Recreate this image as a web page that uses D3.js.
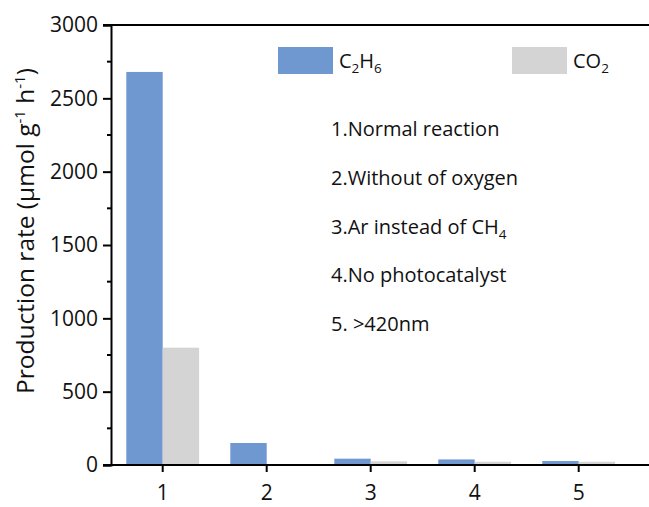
<!DOCTYPE html>
<html>
<head>
<meta charset="utf-8">
<script src="https://cdn.jsdelivr.net/npm/d3@7"></script>
<style>
  html, body { margin: 0; padding: 0; background: #fff; }
  svg { display: block; }
  text { font-family: "Open Sans", "DejaVu Sans", sans-serif; fill: #111; }
</style>
</head>
<body>
<svg id="chart" width="649" height="507"></svg>
<script>
// Reaction conditions (x categories)
const categories = ["1", "2", "3", "4", "5"];
// Production rates, µmol g⁻¹ h⁻¹
const c2h6Values = [2680, 150, 43, 38, 27];
const co2Values = [800, 3, 25, 22, 22];
const yTicks = [0, 500, 1000, 1500, 2000, 2500, 3000];
const yMinorTicks = [250, 750, 1250, 1750, 2250, 2750];
const conditionNotes = [
  ["1.Normal reaction"],
  ["2.Without of oxygen"],
  ["3.Ar instead of CH", "4"],
  ["4.No photocatalyst"],
  ["5. >420nm"]
];

const svg = d3.select("#chart");
const W = 649, H = 507;
const plotLeft = 111, plotTop = 25, plotBottom = 465;
const step = 104;
const firstCenter = 162.7;

const x = d3.scaleBand()
  .domain(categories)
  .range([firstCenter - step / 2, firstCenter - step / 2 + step * categories.length])
  .paddingInner(0.3)
  .paddingOuter(0.15);
const y = d3.scaleLinear().domain([0, 3000]).range([plotBottom, plotTop]);

const blue = "#6f98d0";
const grey = "#d4d4d4";

// Bars: C2H6 left half of the band, CO2 right half
const g = svg.append("g");
const barW = x.bandwidth() / 2;
g.selectAll("rect.c2h6").data(categories).join("rect")
  .attr("class", "c2h6")
  .attr("x", d => x(d))
  .attr("width", barW)
  .attr("y", (d, i) => y(c2h6Values[i]))
  .attr("height", (d, i) => y(0) - y(c2h6Values[i]))
  .attr("fill", blue);
g.selectAll("rect.co2").data(categories).join("rect")
  .attr("class", "co2")
  .attr("x", d => x(d) + barW)
  .attr("width", barW)
  .attr("y", (d, i) => y(co2Values[i]))
  .attr("height", (d, i) => y(0) - y(co2Values[i]))
  .attr("fill", grey);

// Frame lines (plot area runs past the right edge)
svg.append("line").attr("x1", plotLeft - 8).attr("x2", W).attr("y1", plotTop).attr("y2", plotTop)
  .attr("stroke", "#000").attr("stroke-width", 2);
svg.append("line").attr("x1", plotLeft - 8).attr("x2", W).attr("y1", plotBottom).attr("y2", plotBottom)
  .attr("stroke", "#000").attr("stroke-width", 2);

// Y axis
const yAxis = svg.append("g").attr("transform", `translate(${plotLeft},0)`)
  .call(d3.axisLeft(y).tickValues(yTicks).tickSize(8).tickPadding(5).tickFormat(d3.format("d")));
yAxis.select(".domain").attr("stroke-width", 2);
yAxis.selectAll(".tick line").attr("stroke-width", 2);
yAxis.selectAll(".tick text").style("font-size", "21px").attr("fill", "#111")
  .style("font-family", "'Open Sans', sans-serif");
svg.append("g").attr("transform", `translate(${plotLeft},0)`)
  .selectAll("line").data(yMinorTicks).join("line")
  .attr("x1", -4).attr("x2", 0)
  .attr("y1", d => y(d)).attr("y2", d => y(d))
  .attr("stroke", "#000").attr("stroke-width", 2);

// X axis
const xAxis = svg.append("g").attr("transform", `translate(0,${plotBottom})`)
  .call(d3.axisBottom(x).tickSize(7).tickPadding(13));
xAxis.select(".domain").remove();
xAxis.selectAll(".tick line").attr("stroke-width", 2);
xAxis.selectAll(".tick text").style("font-size", "21px").attr("fill", "#111")
  .style("font-family", "'Open Sans', sans-serif");

// Y axis title
const yt = svg.append("text")
  .attr("transform", `translate(34,231) rotate(-90)`)
  .attr("text-anchor", "middle")
  .style("font-size", "24.5px");
yt.append("tspan").text("Production rate (μmol g");
yt.append("tspan").attr("dy", -9).style("font-size", "15px").text("-1");
yt.append("tspan").attr("dy", 9).text(" h");
yt.append("tspan").attr("dy", -9).style("font-size", "15px").text("-1");
yt.append("tspan").attr("dy", 9).text(")");

// Legend
const legendItems = [
  { color: blue, parts: [["C", 0], ["2", 1], ["H", 0], ["6", 1]], x: 278 },
  { color: grey, parts: [["CO", 0], ["2", 1]], x: 512 }
];
legendItems.forEach(item => {
  svg.append("rect").attr("x", item.x).attr("y", 47).attr("width", 55).attr("height", 27)
    .attr("fill", item.color);
  const t = svg.append("text").attr("x", item.x + 61).attr("y", 68).style("font-size", "20px");
  let shifted = false;
  item.parts.forEach(([s, sub]) => {
    const sp = t.append("tspan").text(s);
    if (sub) { sp.style("font-size", "13.5px").attr("dy", shifted ? 0 : 5); shifted = true; }
    else { if (shifted) sp.attr("dy", -5); shifted = false; }
  });
});

// Condition notes
conditionNotes.forEach((note, i) => {
  const t = svg.append("text").attr("x", 331).attr("y", 136 + i * 48.8).style("font-size", "20px");
  t.append("tspan").text(note[0]);
  if (note[1]) t.append("tspan").attr("dy", 5).style("font-size", "13.5px").text(note[1]);
});
</script>
</body>
</html>
